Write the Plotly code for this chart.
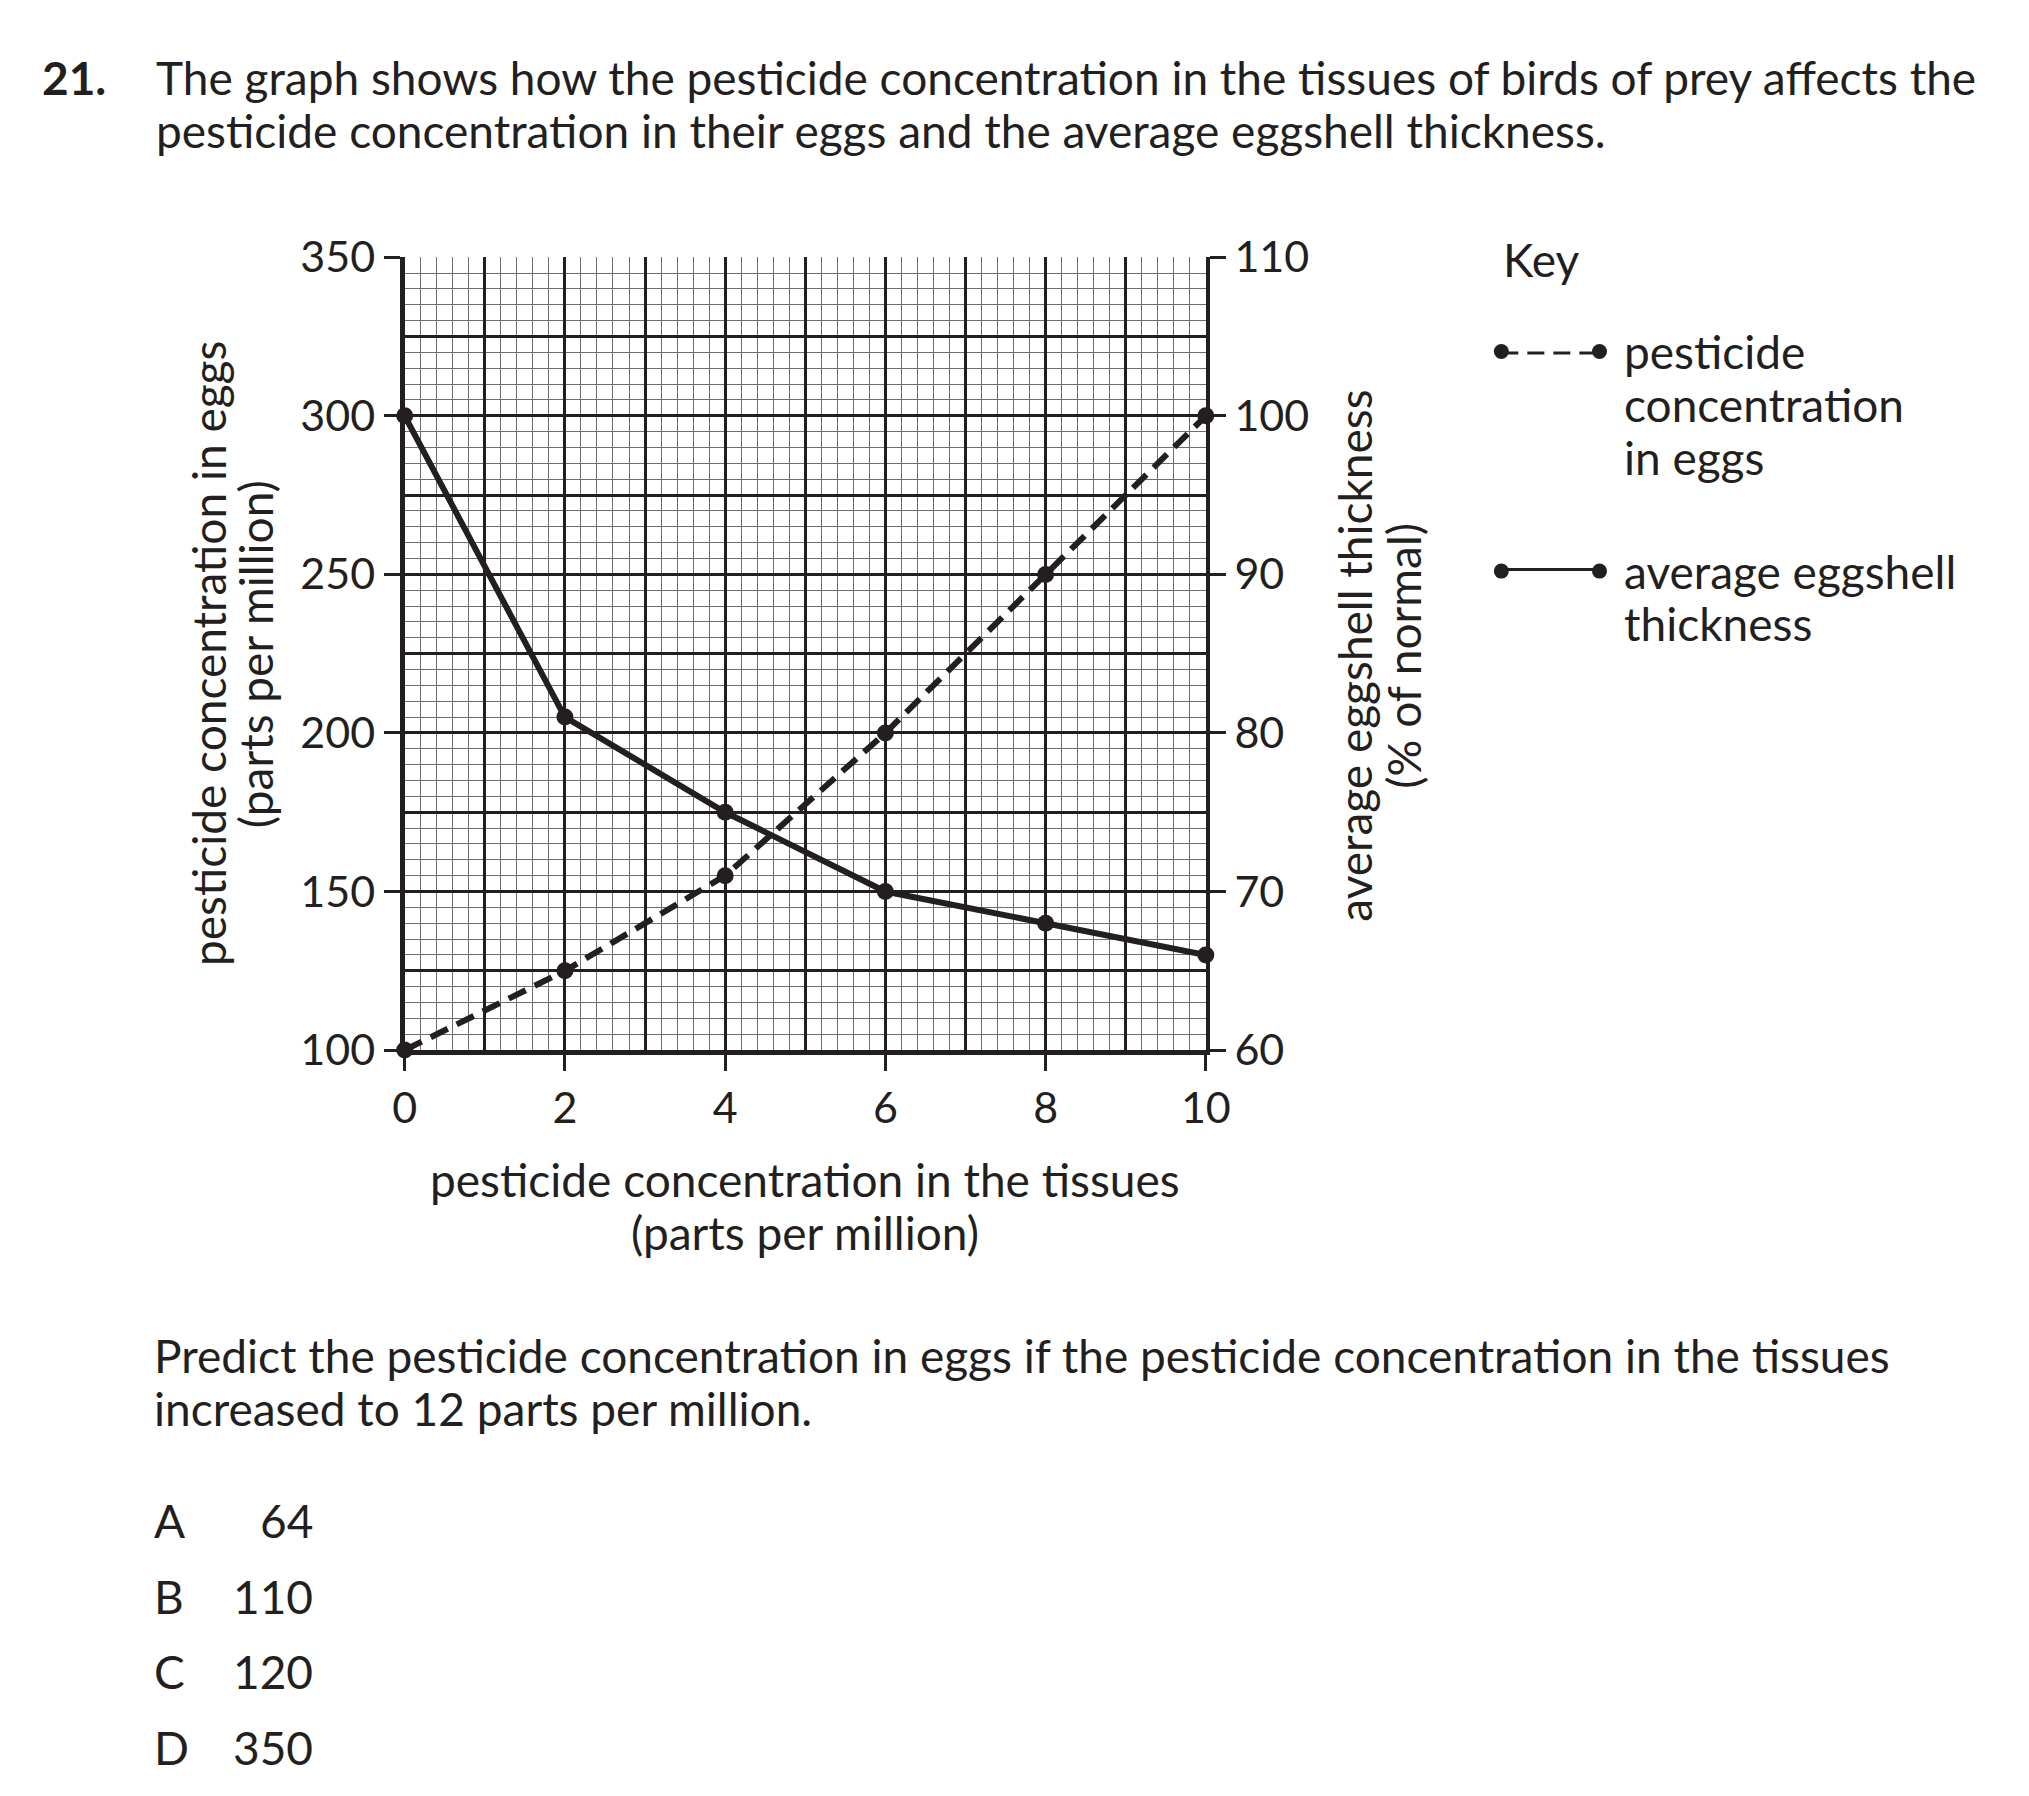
import plotly.graph_objects as go

# data
tissue_ppm = [0, 2, 4, 6, 8, 10]
eggs_ppm = [100, 125, 155, 200, 250, 300]
shell_pct = [100, 81, 75, 70, 68, 66]

x_ticks = [0, 2, 4, 6, 8, 10]
left_ticks = [100, 150, 200, 250, 300, 350]
right_ticks = [60, 70, 80, 90, 100, 110]
odd_x = [1, 3, 5, 7, 9]

key_x = [0, 1]
key_dash_y = [1, 1]
key_solid_y = [0, 0]

W, H = 2029, 1796
INK = '#231f20'
GREY = '#6e6e6e'
FONT = 'Lato'
FS = 46
TFS = 43


def px(x):
    return x / W


def py(y):
    return 1 - y / H


fig = go.Figure()

fig.add_trace(go.Scatter(x=tissue_ppm, y=eggs_ppm, mode='lines+markers',
                         line=dict(color=INK, width=6, dash='19px,10px'),
                         marker=dict(color=INK, size=17), cliponaxis=False,
                         xaxis='x', yaxis='y', showlegend=False))
fig.add_trace(go.Scatter(x=tissue_ppm, y=shell_pct, mode='lines+markers',
                         line=dict(color=INK, width=6),
                         marker=dict(color=INK, size=17), cliponaxis=False,
                         xaxis='x2', yaxis='y2', showlegend=False))

# key samples
fig.add_trace(go.Scatter(x=key_x, y=key_dash_y, mode='lines+markers',
                         line=dict(color=INK, width=6, dash='17px,9px'),
                         marker=dict(color=INK, size=15), cliponaxis=False,
                         xaxis='x3', yaxis='y3', showlegend=False))
fig.add_trace(go.Scatter(x=key_x, y=key_solid_y, mode='lines+markers',
                         line=dict(color=INK, width=6),
                         marker=dict(color=INK, size=15), cliponaxis=False,
                         xaxis='x3', yaxis='y3', showlegend=False))

xdom = [px(400), px(1216)]
ydom = [py(1053), py(237)]
tickfont = dict(family=FONT, size=TFS, color=INK)

fig.update_layout(
    width=W, height=H, autosize=False,
    margin=dict(l=0, r=0, t=0, b=0),
    paper_bgcolor='white', plot_bgcolor='white',
    xaxis=dict(domain=xdom, range=[0, 10], tickmode='array', tickvals=x_ticks,
               ticks='outside', ticklen=16, tickwidth=3, tickcolor=INK,
               tickfont=tickfont, ticklabelstandoff=0,
               showgrid=True, gridcolor=INK, gridwidth=2.5,
               minor=dict(dtick=0.2, tick0=0, showgrid=True, gridcolor=GREY, gridwidth=1.3, ticks=''),
               showline=True, linecolor=INK, linewidth=5, zeroline=False, anchor='y'),
    xaxis2=dict(domain=xdom, range=[0, 10], overlaying='x', tickmode='array', tickvals=odd_x,
                showticklabels=False, ticks='', showgrid=True, gridcolor=INK, gridwidth=2.5,
                showline=False, zeroline=False, anchor='y2'),
    yaxis=dict(domain=ydom, range=[100, 350], tickmode='array', tickvals=left_ticks,
               ticks='outside', ticklen=16, tickwidth=3, tickcolor=INK,
               tickfont=tickfont, ticklabelstandoff=0,
               showgrid=True, gridcolor=INK, gridwidth=2.5,
               minor=dict(dtick=5, tick0=100, showgrid=True, gridcolor=GREY, gridwidth=1.3, ticks=''),
               showline=True, linecolor=INK, linewidth=5, zeroline=False, anchor='x'),
    yaxis2=dict(domain=ydom, range=[60, 110], overlaying='y', side='right', tickmode='array',
                tickvals=right_ticks, ticks='outside', ticklen=16, tickwidth=3, tickcolor=INK,
                tickfont=tickfont, ticklabelstandoff=0, showgrid=False,
                minor=dict(dtick=5, tick0=60, showgrid=True, gridcolor=INK, gridwidth=2.5, ticks=''),
                showline=True, linecolor=INK, linewidth=4, zeroline=False, anchor='x2'),
    xaxis3=dict(domain=[px(1517), px(1617)], range=[0, 1], visible=False, anchor='y3'),
    yaxis3=dict(domain=[py(560), py(334)], range=[0, 1], visible=False, anchor='x3'),
)


def note(text, x, y, xanchor='left', size=FS, angle=0, bold=False):
    if bold:
        text = '<b>' + text + '</b>'
    fig.add_annotation(text=text, x=px(x), y=py(y), xref='paper', yref='paper',
                       xanchor=xanchor, yanchor='middle', showarrow=False, textangle=angle,
                       font=dict(family=FONT, size=size, color=INK))


note('21.', 29, 52, bold=True)
note('The graph shows how the pesticide concentration in the tissues of birds of prey affects the', 145, 52)
note('pesticide concentration in their eggs and the average eggshell thickness.', 145, 107)

note('pesticide concentration in eggs', 200, 645, xanchor='center', angle=-90)
note('(parts per million)', 248, 645, xanchor='center', angle=-90)
note('average eggshell thickness', 1368, 647, xanchor='center', angle=-90)
note('(% of normal)', 1417, 647, xanchor='center', angle=-90)

note('pesticide concentration in the tissues', 808, 1186, xanchor='center')
note('(parts per million)', 808, 1241, xanchor='center')

note('Key', 1517, 239)
note('pesticide', 1640, 334)
note('concentration', 1640, 389)
note('in eggs', 1640, 443)
note('average eggshell', 1640, 560)
note('thickness', 1640, 614)

note('Predict the pesticide concentration in eggs if the pesticide concentration in the tissues', 143, 1367)
note('increased to 12 parts per million.', 143, 1422)

options = ['A', 'B', 'C', 'D']
answers = ['64', '110', '120', '350']
opt_y = [1537, 1615, 1693, 1771]
for letter, ans, yy in zip(options, answers, opt_y):
    note(letter, 143, yy)
    note(ans, 309, yy, xanchor='right')

fig.write_html('out.html', config={'displayModeBar': False},
               post_script="document.body.style.margin='0';document.body.style.overflow='hidden';")
